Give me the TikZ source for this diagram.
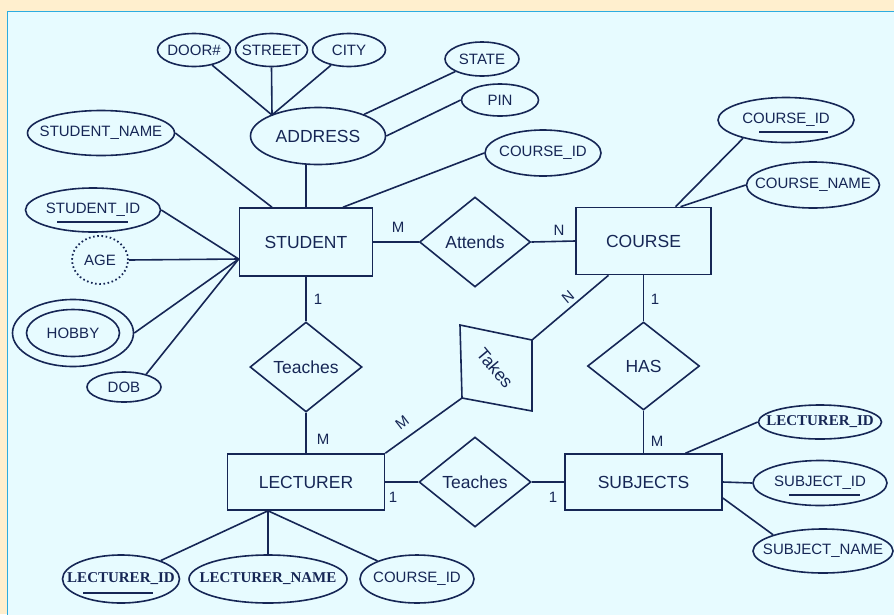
\documentclass[tikz,border=0pt]{standalone}
\usepackage{fontspec}
\setmainfont{Liberation Sans}
\newfontfamily\serifbf{Liberation Serif}
\usetikzlibrary{shapes.geometric,calc}

\definecolor{cream}{RGB}{255,239,206}
\definecolor{panel}{RGB}{231,251,255}
\definecolor{frame}{RGB}{45,172,224}
\definecolor{ink}{RGB}{22,38,85}

% zero-width box: keeps the shape size fixed by minimum width/height
\newcommand{\zw}[1]{\makebox[0pt]{#1}}
\newcommand{\attrfont}{\fontsize{15}{18}\selectfont}
\newcommand{\entfont}{\fontsize{17.5}{21}\selectfont}
\newcommand{\cardfont}{\fontsize{15}{18}\selectfont}
\newcommand{\keyfont}{\serifbf\bfseries\fontsize{15}{18}\selectfont}

\tikzset{
  attr/.style={ellipse, draw, inner sep=0pt, font=\attrfont},
  keyattr/.style={ellipse, draw, inner sep=0pt, font=\keyfont},
  ent/.style={rectangle, draw, inner sep=0pt, font=\entfont},
  rel/.style={diamond, draw, inner sep=0pt, font=\entfont},
  card/.style={font=\cardfont, inner sep=0pt},
  keyline/.style={line width=2pt},
}

\begin{document}
\begin{tikzpicture}[x=1pt, y=-1pt, color=ink, line width=1.6pt]
\useasboundingbox (0,0) rectangle (894,614);
\fill[cream] (0,0) rectangle (894,614);
\filldraw[fill=panel, draw=frame, line width=1.5pt] (7.5,11.5) rectangle (900,620);

% ---------- STUDENT and its attributes ----------
\node[ent, minimum width=133pt, minimum height=68pt] (student) at (306,242) {STUDENT};
\node[attr, minimum width=73pt, minimum height=33pt] (door) at (194,50) {\zw{DOOR\#}};
\node[attr, minimum width=72pt, minimum height=33pt] (street) at (271.5,50) {\zw{STREET}};
\node[attr, minimum width=73pt, minimum height=33pt] (city) at (349,50) {\zw{CITY}};
\node[attr, minimum width=74pt, minimum height=34pt] (state) at (482,59) {\zw{STATE}};
\node[attr, minimum width=77pt, minimum height=32pt] (pin) at (500,100) {\zw{PIN}};
\node[attr, minimum width=135pt, minimum height=57pt, font=\entfont] (address) at (318,136) {\zw{ADDRESS}};
\node[attr, minimum width=116pt, minimum height=46pt] (cidA) at (543,153) {\zw{COURSE\_ID}};
\node[attr, minimum width=147pt, minimum height=45pt] (sname) at (101,133) {\zw{STUDENT\_NAME}};
\node[attr, minimum width=135pt, minimum height=44pt] (sid) at (93,210) {\zw{STUDENT\_ID}};
\node[attr, dash pattern=on 1.6pt off 2.6pt, line width=1.8pt, minimum width=56pt, minimum height=48pt] (age) at (100,260) {\zw{AGE}};
\node[ellipse, draw, inner sep=0pt, minimum width=121pt, minimum height=67pt] (hobbyout) at (73,333) {};
\node[attr, minimum width=93pt, minimum height=47pt] (hobby) at (73,333) {\zw{HOBBY}};
\node[attr, minimum width=74pt, minimum height=30pt] (dob) at (124,387) {\zw{DOB}};

\coordinate (aT) at (272,115);
\coordinate (sL) at ([yshift=-17pt]student.west);
\draw (door) -- (aT);
\draw (street.south) -- (aT);
\draw (city) -- (aT);
\draw (state) -- (address);
\draw (pin.west) -- (address.east);
\draw (student.north) -- (student.north |- address.south);
\draw (cidA.west) -- ([xshift=37pt]student.north);
\draw (sname.east) -- ([xshift=-34pt]student.north);
\draw (sid.east) -- (sL);
\draw (age.east) -- (sL);
\draw (hobbyout.east) -- (sL);
\draw (dob.30) -- (sL);
\draw[keyline] ([xshift=-36pt,yshift=-12pt]sid.center) -- ++(71,0);

% ---------- COURSE ----------
\node[ent, minimum width=135pt, minimum height=67pt] (course) at (643.5,241) {COURSE};
\node[attr, minimum width=136pt, minimum height=45pt] (cidB) at (786,120) {\zw{COURSE\_ID}};
\node[attr, minimum width=133pt, minimum height=46pt] (cname) at (813,185) {\zw{COURSE\_NAME}};
\draw (cidB.203) -- ([xshift=32pt]course.north);
\draw (cname.west) -- ([xshift=37pt]course.north);
\draw[keyline] ([xshift=-27pt,yshift=-12pt]cidB.center) -- ++(69,0);

% ---------- Attends ----------
\node[rel, minimum width=111pt, minimum height=90pt] (attends) at (475,242) {\zw{Attends}};
\draw (student.east) -- (attends.west);
\draw (attends.east) -- (course.west);
\node[card] (cM1) at (398,227) {M};
\node[card] (cN1) at (559,230) {N};

% ---------- Teaches (student - lecturer) ----------
\node[rel, minimum width=112pt, minimum height=90pt] (teachA) at (306,367) {\zw{Teaches}};
\node[ent, minimum width=157pt, minimum height=56pt] (lecturer) at (306,482) {LECTURER};
\draw (student.south) -- (teachA.north);
\draw (teachA.south) -- (lecturer.north);
\node[card] (c1a) at (318,299) {1};
\node[card] (cM2) at (323,439) {M};

% ---------- HAS ----------
\node[rel, minimum width=112pt, minimum height=88pt] (has) at (643.5,366) {\zw{HAS}};
\node[ent, minimum width=157pt, minimum height=56pt] (subjects) at (643.5,482) {SUBJECTS};
\draw (course.south) -- (has.north);
\draw (has.south) -- (subjects.north);
\node[card] (c1b) at (655,299) {1};
\node[card] (cM3) at (657,441) {M};

% ---------- Teaches (lecturer - subjects) ----------
\node[rel, minimum width=112pt, minimum height=90pt] (teachB) at (475,482) {\zw{Teaches}};
\draw (lecturer.east) -- (teachB.west);
\draw (teachB.east) -- (subjects.west);
\node[card] (c1c) at (393,497) {1};
\node[card] (c1d) at (553,497) {1};

% ---------- Takes (tilted relationship) ----------
\coordinate (tk1) at (460,325);
\coordinate (tk2) at (532,340);
\coordinate (tk3) at (532,411);
\coordinate (tk4) at (462,398);
\draw[line join=miter] (tk1) -- (tk2) -- (tk3) -- (tk4) -- cycle;
\node[font=\entfont, inner sep=0pt, rotate=-50] (takes) at (495,368) {Takes};
\draw (tk2) -- ([xshift=-35pt]course.south);
\draw (tk4) -- (lecturer.north east);
\node[card, rotate=40] (cN2) at (568,297) {N};
\node[card, rotate=38] (cM4) at (402,423) {M};

% ---------- LECTURER attributes ----------
\node[keyattr, minimum width=117pt, minimum height=48pt] (lidA) at (121,579) {\zw{LECTURER\_ID}};
\node[keyattr, minimum width=158pt, minimum height=48pt] (lname) at (268,579) {\zw{LECTURER\_NAME}};
\node[attr, minimum width=114pt, minimum height=48pt] (cidC) at (417,579) {\zw{COURSE\_ID}};
\coordinate (lB) at ([xshift=-38pt]lecturer.south);
\draw (lidA) -- (lB);
\draw (lname.north) -- (lB);
\draw (cidC) -- (lB);
\draw[keyline] ([xshift=-38pt,yshift=-14pt]lidA.center) -- ++(70,0);

% ---------- SUBJECTS attributes ----------
\node[keyattr, minimum width=123pt, minimum height=34pt] (lidB) at (820,422) {\zw{LECTURER\_ID}};
\node[attr, minimum width=134pt, minimum height=45pt] (subid) at (820,483) {\zw{SUBJECT\_ID}};
\node[attr, minimum width=140pt, minimum height=44pt] (subname) at (823,551) {\zw{SUBJECT\_NAME}};
\draw (lidB.west) -- ([xshift=42pt]subjects.north);
\draw (subid.west) -- (subjects.east);
\draw (subname.162) -- ([yshift=-16pt]subjects.east);
\draw[keyline] ([xshift=-31pt,yshift=-12pt]subid.center) -- ++(71,0);
\end{tikzpicture}
\end{document}
